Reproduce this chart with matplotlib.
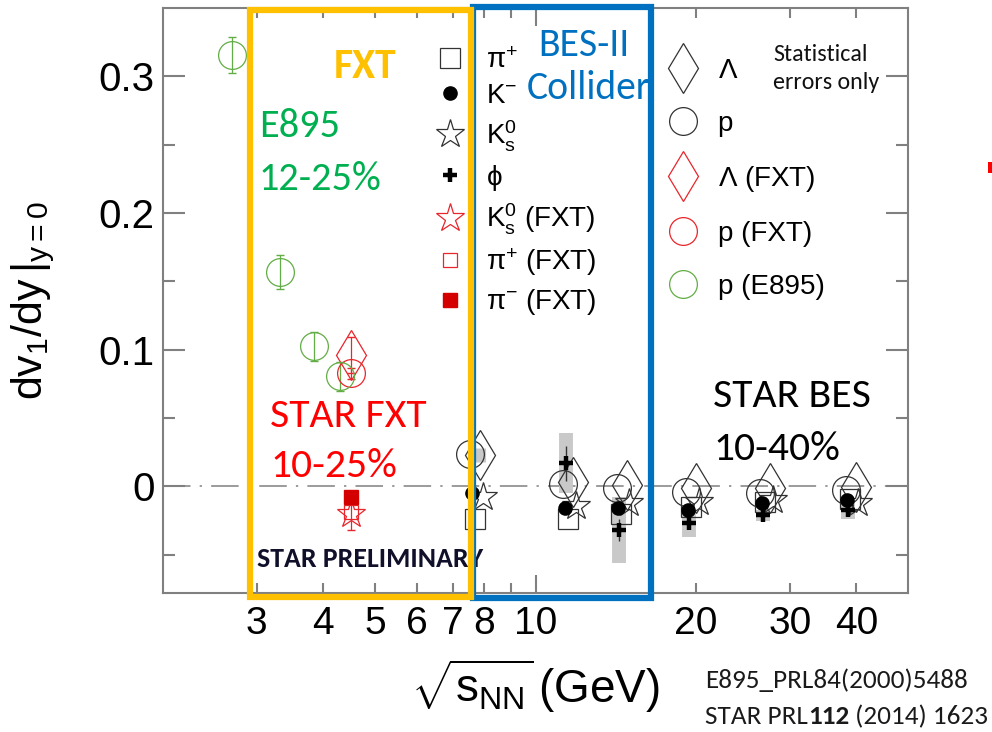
import matplotlib
matplotlib.use("Agg")
import matplotlib.pyplot as plt
from matplotlib import font_manager
from matplotlib.patches import Rectangle
from matplotlib.ticker import FixedLocator, FixedFormatter, NullFormatter

# ---------------- data ----------------
bes_energy = [7.7, 11.5, 14.5, 19.6, 27.0, 39.0]
lambda_bes = [0.023, 0.003, 0.001, -0.001, -0.0015, -0.0005]
proton_bes = [0.024, 0.002, -0.0015, -0.004, -0.005, -0.003]
kminus_bes = [-0.005, -0.0155, -0.0155, -0.0175, -0.0125, -0.010]
k0s_bes = [-0.008, -0.014, -0.0125, -0.0115, -0.010, -0.0125]
piplus_bes = [-0.0235, -0.0235, -0.020, -0.015, -0.0115, -0.009]

phi_energy = [11.5, 14.5, 19.6, 27.0, 39.0]
phi_bes = [0.0168, -0.032, -0.027, -0.021, -0.0175]
phi_stat = [0.013, 0.008, 0.003, 0.003, 0.003]
phi_sys = [0.022, 0.024, 0.010, 0.004, 0.006]

lambda_sys_energy = [7.7]
lambda_sys_value = [0.023]
lambda_sys = [0.005]

fxt_energy = [4.5]
lambda_fxt = [0.096]
lambda_fxt_err = [0.013]
proton_fxt = [0.0827]
proton_fxt_err = [0.004]
k0s_fxt = [-0.020]
k0s_fxt_err = [0.012]
piplus_fxt = [-0.019]
piminus_fxt = [-0.008]

e895_energy = [2.70, 3.32, 3.84, 4.29]
proton_e895 = [0.3155, 0.157, 0.1025, 0.0805]
proton_e895_err = [0.013, 0.0125, 0.0105, 0.0105]

x_tick_values = [3, 4, 5, 6, 7, 8, 10, 20, 30, 40]
x_tick_labels = ["3", "4", "5", "6", "7", "8", "10", "20", "30", "40"]
y_tick_values = [0.0, 0.1, 0.2, 0.3]
y_tick_labels = ["0", "0.1", "0.2", "0.3"]

# ---------------- fonts ----------------
available = {f.name for f in font_manager.fontManager.ttflist}
SANS = "Liberation Sans"
NARROW = "Liberation Sans Narrow" if "Liberation Sans Narrow" in available else SANS
CAL = "Carlito" if "Carlito" in available else "Lato"

plt.rcParams["font.family"] = [SANS, "DejaVu Sans"]
plt.rcParams["mathtext.fontset"] = "custom"
plt.rcParams["mathtext.rm"] = SANS
plt.rcParams["mathtext.it"] = SANS + ":italic"
plt.rcParams["mathtext.bf"] = SANS + ":bold"

W, H = 992, 732
fig = plt.figure(figsize=(W / 100, H / 100), dpi=100)
ax = fig.add_axes([163 / W, 1 - 593 / H, (908 - 163) / W, (593 - 8) / H])


def fx(px):
    return px / W


def fy(py):
    return 1 - py / H


def shift(values, factor):
    return [v * factor for v in values]


GRAY = "#808080"
RED = "#e8262c"
GREEN = "#62ad45"

ax.set_xscale("log")
ax.set_xlim(2.0, 50.0)
ax.set_ylim(-0.078, 0.35)

# zero reference line
ax.axhline(0, color=GRAY, lw=1.1, ls=(0, (18, 6, 1.5, 6)), zorder=1)

# systematic bands (gray)
ax.errorbar(shift(phi_energy, 0.99), phi_bes, yerr=phi_sys, fmt="none",
            ecolor="#c9c9c9", elinewidth=10, capsize=0, zorder=2)
ax.errorbar(shift(lambda_sys_energy, 1.02), lambda_sys_value, yerr=lambda_sys,
            fmt="none", ecolor="#c9c9c9", elinewidth=8, capsize=0, zorder=2)

ms_circle = 20
ms_diamond = 25
ms_square = 14.5
ms_star = 21
lw_open = 0.9

# BES (collider) points
ax.plot(bes_energy, piplus_bes, ls="none", marker="s", ms=ms_square, mfc="none",
        mec="#333333", mew=lw_open, zorder=3, label=r"$\mathregular{\pi^{+}}$")
ax.plot(shift(bes_energy, 1.035), k0s_bes, ls="none", marker="*", ms=ms_star, mfc="none",
        mec="#333333", mew=lw_open, zorder=4, label=r"$\mathregular{K^{0}_{s}}$")
ax.plot(shift(bes_energy, 0.979), proton_bes, ls="none", marker="o", ms=ms_circle, mfc="none",
        mec="#333333", mew=lw_open, zorder=4, label="p")
ax.plot(shift(bes_energy, 1.022), lambda_bes, ls="none", marker="d", ms=ms_diamond, mfc="none",
        mec="#333333", mew=lw_open, zorder=4, label=r"$\mathregular{\Lambda}$")
ax.plot(shift(bes_energy, 0.987), kminus_bes, ls="none", marker="o", ms=9.5, mfc="black",
        mec="black", zorder=5, label=r"$\mathregular{K^{-}}$")
ax.errorbar(shift(phi_energy, 0.99), phi_bes, yerr=phi_stat, fmt="none", ecolor="#333333",
            elinewidth=1, capsize=0, zorder=5)
ax.plot(shift(phi_energy, 0.99), phi_bes, ls="none", marker="+", ms=10, mew=3.2,
        color="black", zorder=6, label=r"$\mathregular{\phi}$")

# STAR fixed-target points
ax.errorbar(fxt_energy, lambda_fxt, yerr=lambda_fxt_err, fmt="none", ecolor=RED,
            elinewidth=0.9, capsize=3, zorder=3)
ax.errorbar(fxt_energy, proton_fxt, yerr=proton_fxt_err, fmt="none", ecolor=RED,
            elinewidth=0.9, capsize=3, zorder=3)
ax.errorbar(fxt_energy, k0s_fxt, yerr=k0s_fxt_err, fmt="none", ecolor=RED,
            elinewidth=0.9, capsize=3, zorder=3)
ax.plot(fxt_energy, piplus_fxt, ls="none", marker="s", ms=10, mfc="none", mec=RED,
        mew=lw_open, zorder=3, label=r"$\mathregular{\pi^{+}}$ (FXT)")
ax.plot(fxt_energy, k0s_fxt, ls="none", marker="*", ms=ms_star, mfc="none", mec=RED,
        mew=lw_open, zorder=4, label=r"$\mathregular{K^{0}_{s}}$ (FXT)")
ax.plot(fxt_energy, piminus_fxt, ls="none", marker="s", ms=10, mfc="#d40000", mec="#d40000",
        zorder=5, label=r"$\mathregular{\pi^{-}}$ (FXT)")
ax.plot(fxt_energy, lambda_fxt, ls="none", marker="d", ms=ms_diamond, mfc="none", mec=RED,
        mew=lw_open, zorder=4, label=r"$\mathregular{\Lambda}$ (FXT)")
ax.plot(fxt_energy, proton_fxt, ls="none", marker="o", ms=ms_circle, mfc="none", mec=RED,
        mew=lw_open, zorder=4, label="p (FXT)")

# E895 protons
ax.errorbar(e895_energy, proton_e895, yerr=proton_e895_err, fmt="none", ecolor=GREEN,
            elinewidth=0.9, capsize=3, zorder=3)
ax.plot(e895_energy, proton_e895, ls="none", marker="o", ms=ms_circle, mfc="none", mec=GREEN,
        mew=lw_open, zorder=4, label="p (E895)")

# ---------------- axes styling ----------------
for sp in ax.spines.values():
    sp.set_color(GRAY)
    sp.set_linewidth(1.5)

ax.xaxis.set_major_locator(FixedLocator(x_tick_values))
ax.xaxis.set_major_formatter(FixedFormatter(x_tick_labels))
ax.xaxis.set_minor_locator(FixedLocator([9]))
ax.xaxis.set_minor_formatter(NullFormatter())
ax.yaxis.set_major_locator(FixedLocator(y_tick_values))
ax.yaxis.set_major_formatter(FixedFormatter(y_tick_labels))
ax.yaxis.set_minor_locator(FixedLocator([-0.05, 0.05, 0.15, 0.25]))

ax.tick_params(axis="both", which="both", direction="in", color=GRAY, width=1.5,
               top=True, right=True)
ax.tick_params(axis="y", which="major", length=16, labelsize=29, pad=6)
ax.tick_params(axis="y", which="minor", length=8.5)
ax.tick_params(axis="x", which="major", length=7, pad=9)
ax.tick_params(axis="x", which="minor", length=7)
for lab in ax.get_xticklabels():
    lab.set_fontfamily(NARROW)
    lab.set_fontsize(34 if NARROW != SANS else 28)
# the decade tick is drawn longer
for tick, val in zip(ax.xaxis.get_major_ticks(), x_tick_values):
    if val == 10:
        tick.tick1line.set_markersize(13)
        tick.tick2line.set_markersize(13)

# axis titles
fig.text(fx(33), fy(301), r"$\mathregular{dv_{1}/dy\,|_{y=0}}$", rotation=90,
         ha="center", va="center", fontsize=31, family=NARROW)
fig.text(fx(535), fy(686), r"$\mathregular{\sqrt{s_{NN}}\,(GeV)}$", ha="center",
         va="center", fontsize=33)

# ---------------- legends ----------------
handles, labels = ax.get_legend_handles_labels()
lookup = dict(zip(labels, handles))
left_keys = [r"$\mathregular{\pi^{+}}$", r"$\mathregular{K^{-}}$", r"$\mathregular{K^{0}_{s}}$",
             r"$\mathregular{\phi}$", r"$\mathregular{K^{0}_{s}}$ (FXT)",
             r"$\mathregular{\pi^{+}}$ (FXT)", r"$\mathregular{\pi^{-}}$ (FXT)"]
right_keys = [r"$\mathregular{\Lambda}$", "p", r"$\mathregular{\Lambda}$ (FXT)", "p (FXT)",
              "p (E895)"]

leg1 = fig.legend([lookup[k] for k in left_keys], left_keys, loc="upper left",
                  bbox_to_anchor=(fx(436), fy(48)), bbox_transform=fig.transFigure,
                  frameon=False, fontsize=20, handlelength=1.0, handletextpad=0.8,
                  borderpad=0, borderaxespad=0, labelspacing=0.33, numpoints=1)
leg2 = fig.legend([lookup[k] for k in right_keys], right_keys, loc="upper left",
                  bbox_to_anchor=(fx(669), fy(58)), bbox_transform=fig.transFigure,
                  frameon=False, fontsize=20, handlelength=1.0, handletextpad=0.75,
                  borderpad=0, borderaxespad=0, labelspacing=0.97, numpoints=1)

# ---------------- highlight boxes ----------------
YELLOW = "#ffc000"
BLUE = "#0070c0"
fig.patches.append(Rectangle((fx(250), fy(597)), fx(471) - fx(250), fy(10) - fy(597),
                             transform=fig.transFigure, fill=False, ec=YELLOW, lw=4.5,
                             zorder=10))
fig.patches.append(Rectangle((fx(473), fy(598)), fx(651) - fx(473), fy(7) - fy(598),
                             transform=fig.transFigure, fill=False, ec=BLUE, lw=4.5,
                             zorder=9))
fig.patches.append(Rectangle((fx(988), fy(173)), fx(4), fy(0) - fy(11),
                             transform=fig.transFigure, fc="#ff0000", ec="none"))

# ---------------- annotations ----------------
fig.text(fx(365), fy(78), "FXT", color=YELLOW, fontsize=30, fontweight="bold",
         family=CAL, ha="center", va="baseline")
fig.text(fx(259), fy(137), "E895", color="#00b050", fontsize=29, family=CAL, va="baseline")
fig.text(fx(259), fy(190), "12-25%", color="#00b050", fontsize=29, family=CAL, va="baseline")
fig.text(fx(270), fy(427), "STAR FXT", color="#ff0000", fontsize=30, family=CAL, va="baseline")
fig.text(fx(270), fy(477), "10-25%", color="#ff0000", fontsize=30, family=CAL, va="baseline")
fig.text(fx(257), fy(567), "STAR PRELIMINARY", color="#10102a", fontsize=20,
         fontweight="bold", family=CAL, va="baseline")
fig.text(fx(584), fy(56), "BES-II", color=BLUE, fontsize=28.5, family=CAL, ha="center",
         va="baseline")
fig.text(fx(589), fy(99), "Collider", color=BLUE, fontsize=28.5, family=CAL, ha="center",
         va="baseline")
fig.text(fx(773), fy(61), "Statistical", color="#111111", fontsize=17.3, family=CAL,
         va="baseline")
fig.text(fx(773), fy(89), "errors only", color="#111111", fontsize=17.3, family=CAL,
         va="baseline")
fig.text(fx(713), fy(407), "STAR BES", color="black", fontsize=30, family=CAL, va="baseline")
fig.text(fx(713), fy(460), "10-40%", color="black", fontsize=30, family=CAL, va="baseline")

fig.text(fx(705), fy(688), "E895_PRL84(2000)5488", color="#1a1a1a", fontsize=19.5,
         family=CAL, va="baseline")
t1 = fig.text(fx(705), fy(724), "STAR PRL", color="#1a1a1a", fontsize=19.5, family=CAL,
              va="baseline")
t2 = ax.annotate("112", xy=(1, 0), xycoords=t1, color="#1a1a1a", fontsize=19.5,
                 family=CAL, fontweight="bold", va="bottom", ha="left",
                 annotation_clip=False)
ax.annotate(" (2014) 1623", xy=(1, 0), xycoords=t2, color="#1a1a1a", fontsize=19.5,
            family=CAL, va="bottom", ha="left", annotation_clip=False)

fig.savefig("out.png", dpi=100)
